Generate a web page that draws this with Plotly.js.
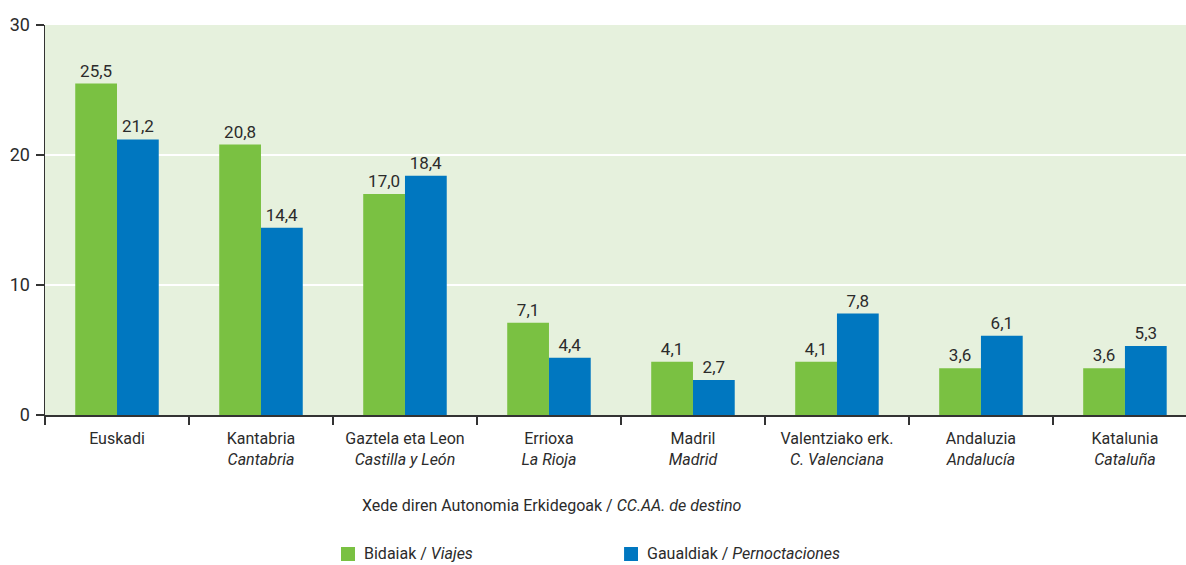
<!DOCTYPE html>
<html><head><meta charset="utf-8">
<script src="https://cdn.plot.ly/plotly-3.0.1.min.js"></script>
<style>html,body{margin:0;padding:0;background:#fff}#chart{width:1186px;height:565px}</style>
</head><body><div id="chart"></div>
<script>
const regionsEu = ["Euskadi","Kantabria","Gaztela eta Leon","Errioxa","Madril","Valentziako erk.","Andaluzia","Katalunia"];
const regionsEs = ["","Cantabria","Castilla y León","La Rioja","Madrid","C. Valenciana","Andalucía","Cataluña"];
const viajes = [25.5,20.8,17.0,7.1,4.1,4.1,3.6,3.6];
const pernoctaciones = [21.2,14.4,18.4,4.4,2.7,7.8,6.1,5.3];
const yTicks = [0,10,20,30];

const cats = regionsEu.map((e,i)=> regionsEs[i] ? e + "<br><i>" + regionsEs[i] + "</i>" : e + "<br> ");
const FONT = 'Roboto, "Liberation Sans Narrow", sans-serif';
const TXT = '#2b2b2b';

const traces = [
  {type:'bar', name:'Bidaiak / Viajes', x:cats, y:viajes, marker:{color:'#7ac142'},
   texttemplate:'%{y:.1f}', textposition:'outside', cliponaxis:false,
   textfont:{family:FONT,size:17,color:TXT}, hoverinfo:'skip'},
  {type:'bar', name:'Gaualdiak / Pernoctaciones', x:cats, y:pernoctaciones, marker:{color:'#0077c0'},
   texttemplate:'%{y:.1f}', textposition:'outside', cliponaxis:false,
   textfont:{family:FONT,size:17,color:TXT}, hoverinfo:'skip'}
];

const layout = {
  width:1186, height:565,
  margin:{l:45, r:0, t:25, b:150},
  paper_bgcolor:'#ffffff', plot_bgcolor:'#e6f1dd',
  separators:', ',
  barmode:'group', bargap:0.42, bargroupgap:0,
  showlegend:false,
  font:{family:FONT, size:16, color:TXT},
  xaxis:{type:'category', range:[-0.5,7.424], tickson:'boundaries', ticks:'outside', ticklen:8,
    tickangle:0, tickcolor:'#333', tickwidth:1.5, showline:true, linecolor:'#333', linewidth:1.5,
    showgrid:false, tickfont:{family:FONT,size:16,color:TXT}, ticklabelstandoff:8, fixedrange:true},
  yaxis:{range:[0,30], tickvals:yTicks, ticks:'outside', ticklen:8, tickcolor:'#333', tickwidth:1.5,
    showline:true, linecolor:'#333', linewidth:1.5, gridcolor:'#ffffff', gridwidth:1.5,
    zeroline:false, tickfont:{family:FONT,size:18,color:TXT}, ticklabelstandoff:2, fixedrange:true},
  annotations:[
    {xref:'paper', yref:'paper', x:0.444, y:-0.2308, xanchor:'center', yanchor:'middle', showarrow:false,
     text:'Xede diren Autonomia Erkidegoak / <i>CC.AA. de destino</i>', font:{family:FONT,size:16,color:TXT}},
    {xref:'paper', yref:'paper', x:0.2778, y:-0.356, xanchor:'left', yanchor:'middle', showarrow:false,
     text:'Bidaiak / <i>Viajes</i>', font:{family:FONT,size:16,color:TXT}},
    {xref:'paper', yref:'paper', x:0.5259, y:-0.356, xanchor:'left', yanchor:'middle', showarrow:false,
     text:'Gaualdiak / <i>Pernoctaciones</i>', font:{family:FONT,size:16,color:TXT}}
  ],
  shapes:[
    {type:'rect', xref:'paper', yref:'paper', x0:0.2594, x1:0.2717, y0:-0.3744, y1:-0.3385, fillcolor:'#7ac142', line:{width:0}},
    {type:'rect', xref:'paper', yref:'paper', x0:0.5075, x1:0.5197, y0:-0.3744, y1:-0.3385, fillcolor:'#0077c0', line:{width:0}}
  ]
};
Plotly.newPlot('chart', traces, layout, {displayModeBar:false, staticPlot:true});
</script></body></html>
